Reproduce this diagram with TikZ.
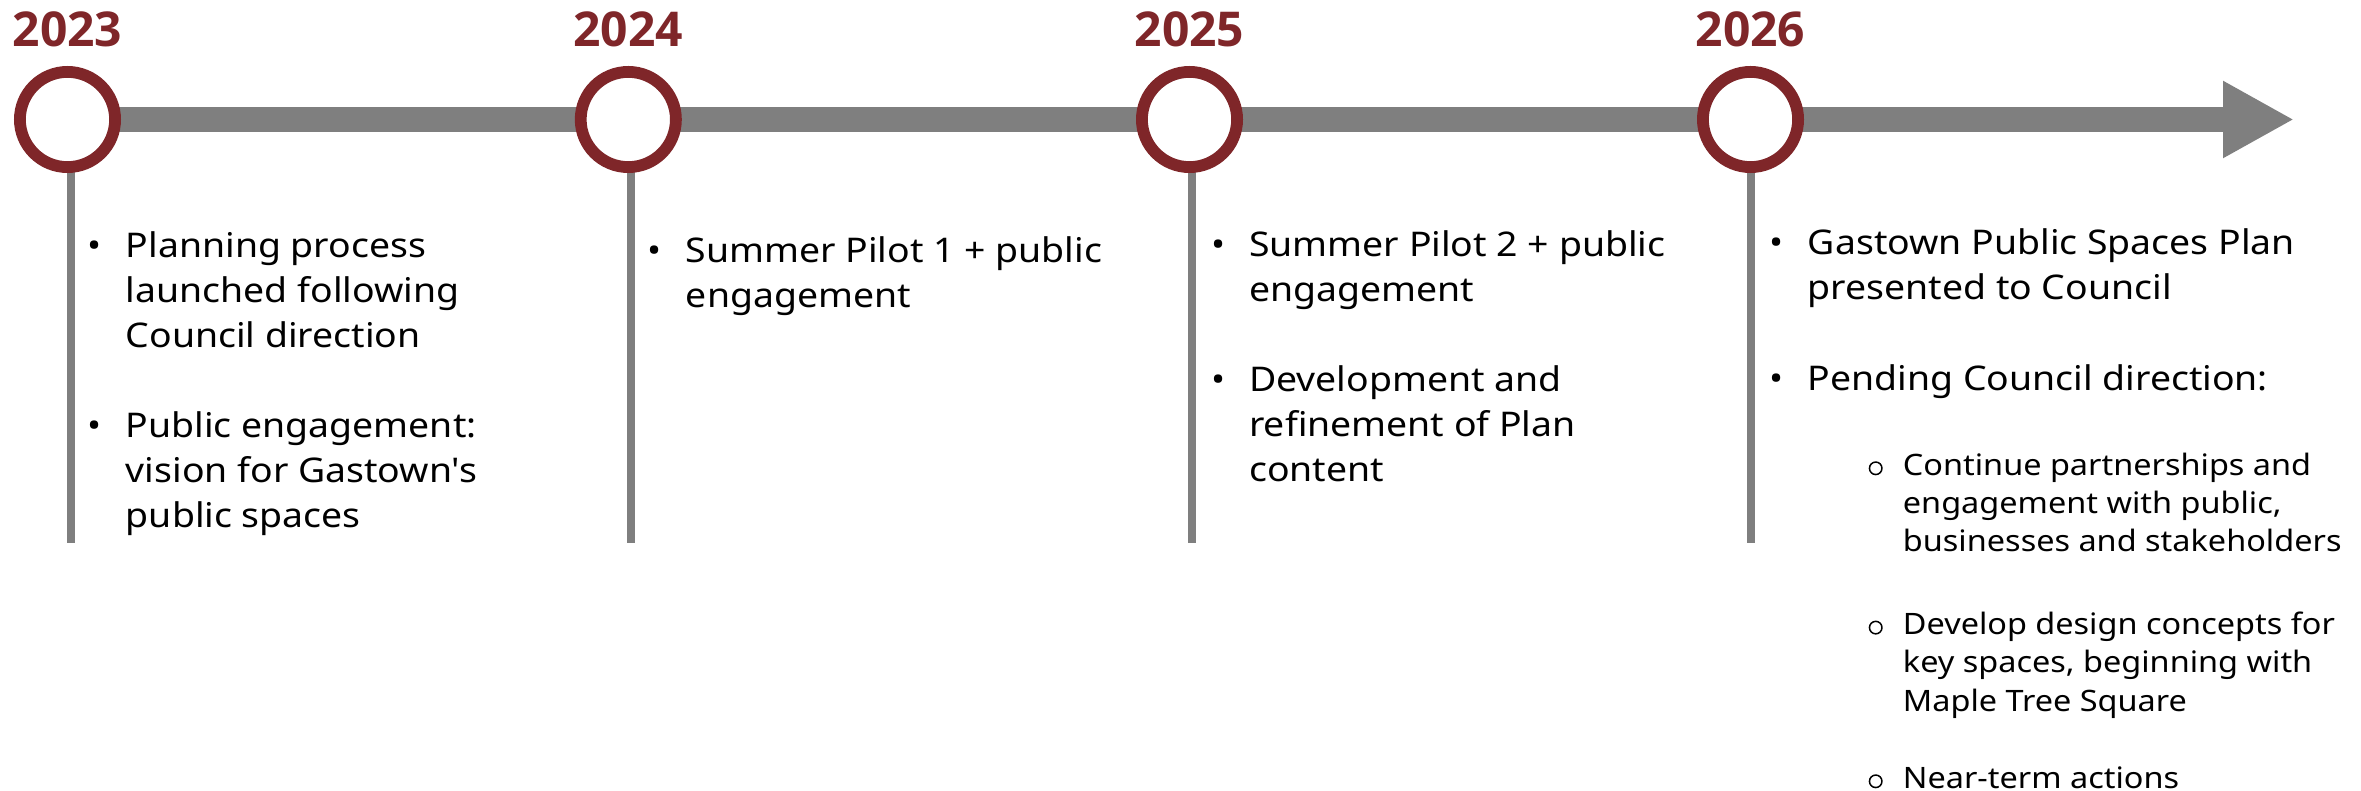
\documentclass[tikz,border=0pt]{standalone}
\usepackage{fontspec}
\setmainfont{Noto Sans}[Ligatures=TeXOff, FakeStretch=1.1]
\newfontfamily\yearfont{Open Sans}
\usetikzlibrary{arrows.meta}
\definecolor{tlred}{HTML}{7F2629}
\definecolor{tlgray}{HTML}{7F7F7F}
\tikzset{
  yearlbl/.style={font=\yearfont\fontsize{48}{56}\selectfont\bfseries, text=tlred, anchor=base, inner sep=0pt},
  ring/.style={circle, draw=tlred, line width=11.8pt, fill=white, minimum size=95.2pt, inner sep=0pt},
  mainbar/.style={draw=tlgray, line width=24.4pt, -{Triangle[length=71pt,width=72pt]}},
  stem/.style={draw=tlgray, line width=8pt},
  bul/.style={anchor=base, inner sep=0pt, font=\fontsize{34}{45}\selectfont},
  para/.style={anchor=base west, inner sep=0pt, font=\fontsize{34}{45}\selectfont},
  subbul/.style={circle, draw=black, line width=1.5pt, minimum size=12.5pt, inner sep=0pt},
  subpara/.style={anchor=base west, inner sep=0pt, font=\fontsize{29.5}{38.4}\selectfont},
}
\newcommand{\plines}[1]{\parbox[t]{560pt}{\raggedright #1}}
\begin{document}
\begin{tikzpicture}[x=1pt,y=-1pt]
\useasboundingbox (0,0) rectangle (2361,791);

% timeline anchors
\coordinate (tip) at (2294,119.5);
\coordinate (v1) at (70.5,543);
\coordinate (v2) at (631,543);
\coordinate (v3) at (1192,543);
\coordinate (v4) at (1750.5,543);
\coordinate (k1) at (67.5,119.5);
\coordinate (k2) at (628.3,119.5);
\coordinate (k3) at (1189.5,119.5);
\coordinate (k4) at (1750.5,119.5);

% main arrow and stems
\draw[mainbar] (k1) -- (tip);
\draw[stem] (k1 -| v1) -- (v1);
\draw[stem] (k2 -| v2) -- (v2);
\draw[stem] (k3 -| v3) -- (v3);
\draw[stem] (k4 -| v4) -- (v4);

% milestone rings
\node[ring] (c1) at (k1) {};
\node[ring] (c2) at (k2) {};
\node[ring] (c3) at (k3) {};
\node[ring] (c4) at (k4) {};

% years
\node[yearlbl] (y1) at (67.5,46.5) {2023};
\node[yearlbl] (y2) at (628.3,46.5) {2024};
\node[yearlbl] (y3) at (1189.5,46.5) {2025};
\node[yearlbl] (y4) at (1750.5,46.5) {2026};

% 2023
\node[bul] (b1a) at (95,257.7) {•};
\node[para] (p1a) at (125.7,257.7) {\plines{Planning process\\launched following\\Council direction}};
\node[bul] (b1b) at (95,437.7) {•};
\node[para] (p1b) at (125.7,437.7) {\plines{Public engagement:\\vision for Gastown's\\public spaces}};

% 2024
\node[bul] (b2a) at (655,262.7) {•};
\node[para] (p2a) at (685.7,262.7) {\plines{Summer Pilot 1 + public\\engagement}};

% 2025
\node[bul] (b3a) at (1219,256.7) {•};
\node[para] (p3a) at (1249,256.7) {\plines{Summer Pilot 2 + public\\engagement}};
\node[bul] (b3b) at (1219,391.7) {•};
\node[para] (p3b) at (1249,391.7) {\plines{Development and\\refinement of Plan\\content}};

% 2026
\node[bul] (b4a) at (1776.7,255) {•};
\node[para] (p4a) at (1807.7,255) {\plines{Gastown Public Spaces Plan\\presented to Council}};
\node[bul] (b4b) at (1776.7,391) {•};
\node[para] (p4b) at (1807.7,391) {\plines{Pending Council direction:}};

\node[subbul] (s1) at (1875.7,468.3) {};
\node[subpara] (q1) at (1902.7,475) {\plines{Continue partnerships and\\engagement with public,\\businesses and stakeholders}};
\node[subbul] (s2) at (1875.7,627.6) {};
\node[subpara] (q2) at (1902.7,634.3) {\plines{Develop design concepts for\\key spaces, beginning with\\Maple Tree Square}};
\node[subbul] (s3) at (1875.7,781.3) {};
\node[subpara] (q3) at (1902.7,788) {\plines{Near-term actions}};
\end{tikzpicture}
\end{document}
